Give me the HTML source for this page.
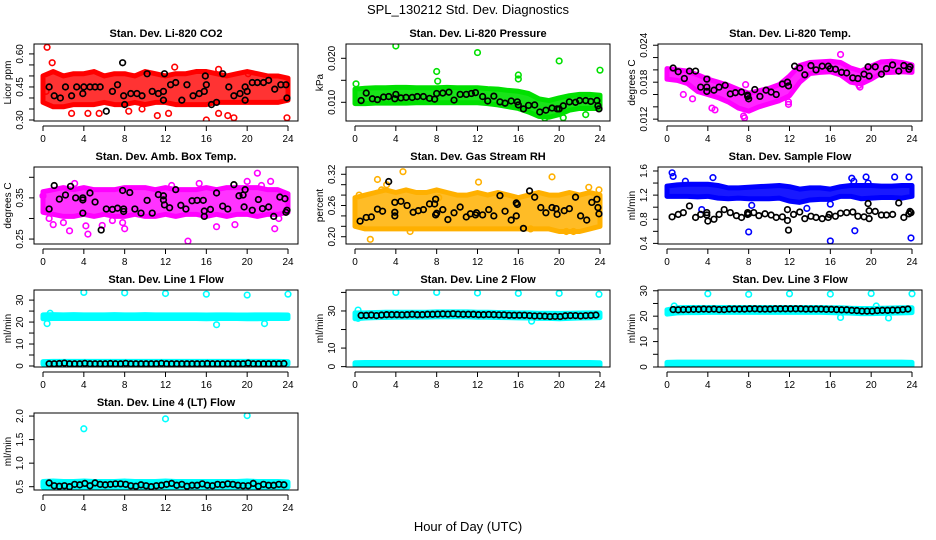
<!DOCTYPE html>
<html><head><meta charset="utf-8"><style>
html,body{margin:0;padding:0;background:#fff;}
svg{display:block;font-family:"Liberation Sans",Arial,sans-serif;}
</style></head><body>
<svg id="chart" width="936" height="540" viewBox="0 0 936 540" xmlns="http://www.w3.org/2000/svg">
<rect width="936" height="540" fill="#fff"/>
<text x="468" y="14" text-anchor="middle" font-size="13">SPL_130212  Std. Dev. Diagnostics</text>
<text x="468" y="531" text-anchor="middle" font-size="13">Hour of Day (UTC)</text>
</svg>
<script>
const hours = [0,1,2,3,4,5,6,7,8,9,10,11,12,13,14,15,16,17,18,19,20,21,22,23,24];
const xTicks = [0,4,8,12,16,20,24];

// Panel 1: CO2
const p1Upper=[0.50,0.52,0.50,0.51,0.51,0.52,0.50,0.51,0.51,0.50,0.52,0.51,0.50,0.51,0.51,0.52,0.52,0.51,0.50,0.51,0.52,0.51,0.50,0.50,0.49];
const p1Lower=[0.38,0.36,0.36,0.37,0.37,0.37,0.38,0.37,0.37,0.38,0.37,0.38,0.38,0.37,0.37,0.37,0.37,0.38,0.38,0.38,0.38,0.38,0.38,0.38,0.39];
const p1Out=[[0.4,0.63],[0.9,0.56],[0.3,0.43],[2.8,0.33],[4.4,0.33],[5.5,0.33],[11.2,0.32],[12.3,0.33],[16,0.30],[17.2,0.33],[18.1,0.32],[18.7,0.31],[23.9,0.31],[20.1,0.51],[12.9,0.54],[17.2,0.53],[9.7,0.35],[8.4,0.34]];
const p1Black=[[0.6,0.45],[1.1,0.41],[1.7,0.40],[2.2,0.45],[2.8,0.41],[3.3,0.45],[3.9,0.42],[4.0,0.45],[4.6,0.45],[5.1,0.45],[5.6,0.45],[6.2,0.34],[6.8,0.43],[7.3,0.46],[7.8,0.56],[7.9,0.41],[8.0,0.37],[8.6,0.42],[9.2,0.42],[9.7,0.41],[10.2,0.51],[10.7,0.43],[11.3,0.42],[11.8,0.43],[11.9,0.51],[11.8,0.39],[12.5,0.46],[13.0,0.47],[13.6,0.39],[14.1,0.46],[14.7,0.41],[15.3,0.42],[15.8,0.43],[15.9,0.50],[16.0,0.46],[16.5,0.37],[17.0,0.38],[17.6,0.51],[18.2,0.45],[18.7,0.41],[19.3,0.42],[19.8,0.39],[19.8,0.45],[20.0,0.43],[20.5,0.47],[21.0,0.47],[21.6,0.47],[22.1,0.48],[22.7,0.44],[23.3,0.46],[23.8,0.46],[23.9,0.40]];
// Panel 2: Pressure
const p2Upper=[0.0130,0.0132,0.0133,0.0133,0.0134,0.0134,0.0133,0.0133,0.0133,0.0134,0.0133,0.0133,0.0133,0.0131,0.0130,0.0127,0.0125,0.0120,0.0108,0.0104,0.0110,0.0115,0.0118,0.0118,0.0116];
const p2Lower=[0.0097,0.0097,0.0098,0.0098,0.0098,0.0098,0.0099,0.0099,0.0099,0.0099,0.0099,0.0099,0.0099,0.0097,0.0094,0.0090,0.0086,0.0078,0.0068,0.0066,0.0072,0.0082,0.0086,0.0086,0.0086];
const p2Out=[[0.1,0.0142],[4.0,0.0228],[8.0,0.0170],[8.1,0.0148],[12.0,0.0213],[16.0,0.0162],[16.0,0.0153],[20.0,0.0194],[24.0,0.0173],[18.6,0.0064],[20.4,0.0065],[22.6,0.0072]];
const p2Black=[[0.6,0.0104],[1.1,0.0121],[1.7,0.0108],[2.2,0.0106],[2.8,0.0112],[3.3,0.0113],[3.9,0.0108],[4.0,0.0118],[4.5,0.0110],[5.0,0.0111],[5.6,0.0111],[6.1,0.0113],[6.7,0.0113],[7.3,0.0109],[7.8,0.0107],[8.0,0.0120],[8.6,0.0121],[9.2,0.0123],[9.7,0.0105],[10.3,0.0118],[10.9,0.0118],[11.4,0.0120],[11.8,0.0122],[12.5,0.0113],[13.0,0.0103],[13.6,0.0114],[14.2,0.0101],[14.7,0.0098],[15.3,0.0103],[15.9,0.0101],[16.0,0.0094],[16.5,0.0085],[17.0,0.0093],[17.6,0.0094],[18.1,0.0078],[18.7,0.0082],[19.3,0.0087],[19.8,0.0085],[20.0,0.0085],[20.4,0.0092],[21.0,0.0101],[21.6,0.0100],[22.0,0.0104],[22.6,0.0104],[23.1,0.0102],[23.7,0.0104],[23.8,0.0092],[23.9,0.0085]];
// Panel 3: Li-820 Temp
const p3Upper=[0.0202,0.0200,0.0198,0.0192,0.0185,0.0180,0.0175,0.0168,0.0162,0.0166,0.0170,0.0176,0.0190,0.0207,0.0212,0.0213,0.0214,0.0212,0.0203,0.0198,0.0206,0.0213,0.0214,0.0212,0.0208];
const p3Lower=[0.0185,0.0183,0.0178,0.0165,0.0160,0.0155,0.0148,0.0138,0.0133,0.0140,0.0145,0.0150,0.0158,0.0180,0.0194,0.0196,0.0197,0.0192,0.0180,0.0177,0.0185,0.0195,0.0196,0.0197,0.0196];
const p3Out=[[1.6,0.0160],[2.5,0.0153],[4.0,0.0185],[4.4,0.0138],[4.7,0.0135],[7.5,0.0125],[7.6,0.0122],[7.7,0.0176],[11.9,0.0148],[11.9,0.0144],[18.8,0.0175],[18.9,0.0172],[17.0,0.0225]];
const p3Black=[[0.6,0.0203],[1.1,0.0197],[1.7,0.0186],[2.2,0.0198],[2.8,0.0198],[3.3,0.0172],[3.9,0.0185],[3.9,0.0172],[3.9,0.0165],[4.6,0.0167],[5.1,0.0172],[5.7,0.0175],[6.2,0.0161],[6.7,0.0163],[7.3,0.0164],[7.9,0.0159],[7.9,0.0157],[8.0,0.0153],[8.6,0.0168],[9.1,0.0157],[9.7,0.0167],[10.2,0.0164],[10.7,0.0160],[11.3,0.0177],[11.8,0.0180],[11.9,0.0174],[12.5,0.0206],[13.0,0.0203],[13.5,0.0192],[14.1,0.0207],[14.6,0.0200],[15.2,0.0206],[15.8,0.0206],[16.0,0.0202],[16.5,0.0201],[17.1,0.0196],[17.6,0.0195],[18.2,0.0187],[18.7,0.0186],[19.3,0.0193],[19.8,0.0190],[19.7,0.0205],[20.4,0.0205],[21.0,0.0193],[21.5,0.0202],[22.1,0.0208],[22.7,0.0198],[23.2,0.0207],[23.7,0.0201],[23.8,0.0205]];
// Panel 4: Amb box temp
const p4Upper=[0.365,0.37,0.375,0.37,0.375,0.37,0.37,0.37,0.375,0.375,0.375,0.37,0.375,0.37,0.37,0.37,0.375,0.37,0.375,0.375,0.375,0.375,0.37,0.37,0.36];
const p4Lower=[0.315,0.31,0.305,0.305,0.31,0.305,0.31,0.305,0.305,0.31,0.305,0.305,0.31,0.305,0.31,0.31,0.305,0.31,0.305,0.31,0.31,0.305,0.31,0.31,0.315];
const p4Out=[[0.0,0.355],[0.6,0.30],[1.0,0.285],[2.0,0.29],[2.6,0.27],[4.2,0.282],[4.4,0.262],[5.8,0.283],[6.8,0.295],[7.8,0.29],[8.0,0.275],[14.2,0.245],[17.0,0.28],[18.8,0.285],[20.0,0.39],[21.0,0.41],[22.7,0.275],[23.1,0.30],[22.3,0.39],[21.4,0.38],[3.1,0.385],[12.6,0.38],[15.3,0.385]];
const p4Black=[[0.6,0.323],[1.1,0.38],[1.6,0.347],[2.2,0.357],[2.7,0.378],[3.2,0.35],[3.9,0.35],[3.9,0.345],[3.9,0.313],[4.6,0.362],[5.1,0.34],[5.7,0.272],[6.2,0.323],[6.8,0.322],[7.3,0.325],[7.8,0.368],[7.9,0.317],[7.9,0.323],[8.5,0.363],[9.0,0.323],[9.6,0.313],[10.2,0.344],[10.7,0.313],[11.3,0.358],[11.8,0.355],[11.9,0.333],[11.8,0.345],[12.4,0.326],[13.0,0.37],[13.5,0.332],[14.0,0.323],[14.6,0.343],[15.1,0.344],[15.7,0.344],[15.8,0.318],[15.8,0.305],[16.4,0.322],[17.0,0.362],[17.6,0.33],[18.1,0.323],[18.7,0.382],[19.2,0.355],[19.6,0.357],[19.8,0.37],[19.7,0.328],[20.5,0.32],[21.1,0.346],[21.5,0.324],[22.1,0.328],[22.6,0.305],[23.2,0.352],[23.7,0.348],[23.8,0.315],[23.9,0.32]];
// Panel 5: Gas stream RH
const p5Upper=[0.275,0.28,0.285,0.29,0.285,0.29,0.285,0.285,0.29,0.285,0.28,0.28,0.285,0.28,0.285,0.28,0.275,0.28,0.285,0.28,0.28,0.285,0.28,0.285,0.28];
const p5Lower=[0.22,0.215,0.215,0.215,0.215,0.215,0.215,0.215,0.215,0.215,0.215,0.215,0.215,0.215,0.215,0.215,0.215,0.215,0.215,0.215,0.21,0.21,0.21,0.215,0.22];
const p5Out=[[0.4,0.28],[1.5,0.195],[2.2,0.31],[4.7,0.325],[5.4,0.21],[12.1,0.305],[17.2,0.215],[19.3,0.315],[20.7,0.21],[21.4,0.21],[22.9,0.295],[23.9,0.29],[2.6,0.29],[3.1,0.30],[8.2,0.275]];
const p5Black=[[0.5,0.230],[1.1,0.237],[1.6,0.238],[2.2,0.253],[2.7,0.249],[3.3,0.306],[3.9,0.266],[3.9,0.240],[3.9,0.247],[4.5,0.268],[5.1,0.260],[5.7,0.247],[6.2,0.250],[6.7,0.252],[7.3,0.263],[7.8,0.263],[7.9,0.272],[8.0,0.245],[7.9,0.242],[8.6,0.252],[9.1,0.233],[9.7,0.246],[10.3,0.257],[10.9,0.238],[11.3,0.244],[11.8,0.242],[11.9,0.246],[12.5,0.242],[13.1,0.252],[13.6,0.240],[14.2,0.279],[14.7,0.249],[15.3,0.232],[15.8,0.265],[15.9,0.262],[15.8,0.240],[16.5,0.216],[17.1,0.288],[17.6,0.276],[18.2,0.256],[18.7,0.246],[19.3,0.256],[19.7,0.254],[19.8,0.243],[20.5,0.25],[21.0,0.254],[21.6,0.276],[22.1,0.24],[22.7,0.232],[23.2,0.266],[23.7,0.272],[23.8,0.256],[23.9,0.244]];
// Panel 6: Sample flow
const p6Upper=[1.35,1.37,1.38,1.38,1.38,1.36,1.32,1.32,1.33,1.34,1.35,1.36,1.34,1.30,1.32,1.32,1.30,1.34,1.36,1.36,1.36,1.35,1.35,1.36,1.36];
const p6Lower=[1.18,1.18,1.18,1.17,1.18,1.15,1.14,1.15,1.14,1.14,1.14,1.15,1.10,1.08,1.12,1.13,1.13,1.18,1.18,1.14,1.15,1.16,1.16,1.15,1.18];
const p6Out=[[0.5,1.57],[0.6,1.51],[3.4,0.96],[4.5,1.49],[8.0,0.59],[8.3,1.03],[13.7,0.98],[16.0,0.44],[16.0,1.05],[18.1,1.48],[18.4,0.61],[19.5,1.50],[22.3,1.50],[23.7,1.50],[23.9,0.49],[19.7,1.4],[18.3,1.43],[1.8,1.43]];
const p6Black=[[0.5,0.84],[1.1,0.88],[1.6,0.91],[2.2,1.02],[2.8,0.83],[3.3,0.88],[3.9,0.91],[3.9,0.87],[4.0,0.77],[4.6,0.80],[5.1,0.88],[5.6,0.96],[6.2,0.91],[6.8,0.86],[7.3,0.83],[7.9,0.91],[7.9,0.88],[8.0,0.89],[8.5,0.91],[9.0,0.86],[9.6,0.89],[10.2,0.87],[10.7,0.83],[11.3,0.84],[11.8,0.96],[11.8,0.78],[11.9,0.62],[12.4,0.88],[13.0,0.92],[13.5,0.81],[14.1,0.85],[14.6,0.83],[15.2,0.81],[15.8,0.83],[15.9,0.88],[16.5,0.85],[17.0,0.90],[17.6,0.91],[18.2,0.92],[18.7,0.85],[19.3,0.84],[19.7,1.06],[19.8,0.81],[19.8,0.94],[20.4,0.93],[21.0,0.87],[21.5,0.87],[22.1,0.88],[22.7,1.07],[23.2,0.83],[23.7,0.89],[23.8,0.93],[23.9,0.91]];
// Panel 7: Line 1 flow
const p7Upper=[23.3,23.4,23.3,23.4,23.3,23.3,23.3,23.4,23.3,23.3,23.4,23.3,23.3,23.3,23.3,23.3,23.2,23.3,23.3,23.2,23.2,23.3,23.3,23.3,23.2];
const p7Lower=[21.5,21.6,21.6,21.6,21.6,21.7,21.6,21.6,21.6,21.6,21.6,21.6,21.6,21.6,21.6,21.6,21.5,21.6,21.6,21.6,21.5,21.5,21.6,21.6,21.6];
const p7LowUpper=[2.0,2.1,2.1,2.1,2.1,2.1,2.1,2.1,2.1,2.1,2.1,2.1,2.1,2.1,2.1,2.1,2.1,2.1,2.1,2.1,2.1,2.1,2.1,2.1,2.0];
const p7LowLower=[0.8,0.7,0.7,0.7,0.7,0.7,0.7,0.7,0.7,0.7,0.7,0.7,0.7,0.7,0.7,0.7,0.7,0.7,0.7,0.7,0.7,0.7,0.7,0.7,0.8];
const p7Out=[[4,33.5],[8,33.3],[12,33],[16,32.7],[20,32.3],[24,32.7],[0.4,19.3],[17,18.8],[21.7,19.3],[0.7,24]];
const p7BlackY=[1.0,1.0,1.1,1.3,1.0,1.0,1.0,1.2,1.0,1.0,1.0,1.0,1.1,1.0,1.0,1.2,1.0,1.0,1.0,1.0,1.0,1.0,1.2,1.0,1.0,1.0,1.0,1.0,1.0,1.0,1.0,1.1,1.0,1.0,1.0,1.0,1.0,1.0,1.0,1.3,1.0,1.0,1.0,1.0,1.0,1.0,1.1];
// Panel 8: Line 2 flow
const p8Upper=[29.0,29.0,29.2,29.3,29.3,29.3,29.3,29.3,29.5,29.5,29.5,29.5,29.3,29.3,29.2,29.2,29.0,29.0,28.8,28.8,28.7,28.8,28.9,29.0,29.0];
const p8Lower=[25.8,26.2,26.4,26.5,26.6,26.6,26.7,26.7,26.8,26.8,26.8,26.8,26.6,26.6,26.5,26.4,26.3,26.2,26.0,26.0,25.8,26.0,26.2,26.3,26.4];
const p8LowUpper=[2.1,2.2,2.2,2.2,2.2,2.2,2.2,2.2,2.2,2.2,2.2,2.2,2.2,2.2,2.2,2.2,2.2,2.2,2.2,2.2,2.2,2.2,2.2,2.2,2.1];
const p8LowLower=[0.6,0.5,0.5,0.5,0.5,0.5,0.5,0.5,0.5,0.5,0.5,0.5,0.5,0.5,0.5,0.5,0.5,0.5,0.5,0.5,0.5,0.5,0.5,0.5,0.6];
const p8Out=[[4,40],[8,40],[12,39.7],[16,39.5],[20,39.5],[23.9,39],[0.3,30.5],[17.3,24.5],[0.1,27],[0.3,26]];
const p8BlackY=[27.6,27.6,27.8,27.5,27.8,28.0,28.0,28.0,27.9,28.0,28.2,28.0,28.0,28.2,28.2,28.3,28.4,28.3,28.5,28.3,28.2,28.2,28.2,28.0,28.0,28.1,28.0,27.9,27.9,27.7,27.7,27.7,27.7,27.5,27.3,27.3,27.2,27.0,27.1,27.0,27.4,27.5,27.5,27.3,27.5,27.6,27.8];
// Panel 9: Line 3 flow
const p9Upper=[22.5,23.3,23.4,23.4,23.4,23.4,23.4,23.4,23.4,23.4,23.4,23.4,23.4,23.4,23.4,23.4,23.3,23.3,23.1,23.0,23.0,23.1,23.2,23.3,23.3];
const p9Lower=[20.8,21.3,21.4,21.4,21.5,21.5,21.5,21.5,21.5,21.5,21.5,21.5,21.5,21.5,21.5,21.5,21.4,21.3,21.2,21.0,21.0,21.1,21.2,21.3,21.4];
const p9LowUpper=[1.8,1.9,1.9,1.9,1.9,1.9,1.9,1.9,1.9,1.9,1.9,1.9,1.9,1.9,1.9,1.9,1.9,1.9,1.9,1.9,1.9,1.9,1.9,1.9,1.8];
const p9LowLower=[0.5,0.4,0.4,0.4,0.4,0.4,0.4,0.4,0.4,0.4,0.4,0.4,0.4,0.4,0.4,0.4,0.4,0.4,0.4,0.4,0.4,0.4,0.4,0.4,0.5];
const p9Out=[[4,28.8],[8,28.6],[12,28.8],[16,28.7],[20,28.9],[24,28.8],[17,19.5],[21.7,19.3],[0.7,24],[20.5,24]];
const p9BlackY=[22.6,22.5,22.6,22.6,22.7,22.7,22.8,22.7,22.8,22.6,22.6,22.8,22.8,22.8,22.8,22.9,22.9,22.8,22.8,22.8,22.9,22.9,22.9,22.9,22.9,22.9,22.8,22.8,22.8,22.8,22.7,22.7,22.6,22.5,22.5,22.3,22.2,22.0,22.0,22.0,22.2,22.3,22.3,22.4,22.4,22.6,22.8];
// Panel 10: Line 4 flow
const p10Upper=[0.61,0.62,0.61,0.61,0.62,0.61,0.61,0.61,0.62,0.61,0.61,0.61,0.62,0.61,0.61,0.61,0.61,0.61,0.61,0.61,0.62,0.61,0.61,0.61,0.60];
const p10Lower=[0.49,0.48,0.48,0.48,0.48,0.48,0.48,0.48,0.48,0.48,0.48,0.48,0.48,0.48,0.48,0.48,0.48,0.48,0.48,0.48,0.48,0.48,0.48,0.48,0.49];
const p10Out=[[4,1.73],[12,1.94],[20,2.01]];
const p10BlackY=[0.58,0.52,0.51,0.52,0.50,0.55,0.54,0.57,0.52,0.58,0.55,0.54,0.55,0.56,0.56,0.55,0.52,0.51,0.54,0.52,0.50,0.52,0.53,0.55,0.57,0.53,0.55,0.51,0.53,0.53,0.56,0.53,0.52,0.55,0.54,0.56,0.55,0.53,0.52,0.52,0.57,0.51,0.55,0.53,0.53,0.55,0.54];

const panels=[
 {c:0,r:0,t:"Stan. Dev. Li-820 CO2",yl:"Licor ppm",y0:0.2955,y1:0.645,ticks:[0.30,0.35,0.40,0.45,0.50,0.55,0.60],lab:{"0.30":"0.30","0.45":"0.45","0.60":"0.60"},col:"#ff0000",op:0.8,bands:[[p1Upper,p1Lower]],out:p1Out,black:p1Black},
 {c:1,r:0,t:"Stan. Dev. Li-820 Pressure",yl:"kPa",y0:0.00575,y1:0.02325,ticks:[0.010,0.015,0.020],lab:{"0.010":"0.010","0.020":"0.020"},col:"#00e000",op:0.9,bands:[[p2Upper,p2Lower]],out:p2Out,black:p2Black},
 {c:2,r:0,t:"Stan. Dev. Li-820 Temp.",yl:"degrees C",y0:0.0117,y1:0.0242,ticks:[0.012,0.014,0.016,0.018,0.020,0.022,0.024],lab:{"0.012":"0.012","0.018":"0.018","0.024":"0.024"},col:"#ff00ff",op:0.85,bands:[[p3Upper,p3Lower]],out:p3Out,black:p3Black},
 {c:0,r:1,t:"Stan. Dev. Amb. Box Temp.",yl:"degrees C",y0:0.238,y1:0.425,ticks:[0.25,0.30,0.35,0.40],lab:{"0.25":"0.25","0.35":"0.35"},col:"#ff00ff",op:0.8,bands:[[p4Upper,p4Lower]],out:p4Out,black:p4Black},
 {c:1,r:1,t:"Stan. Dev. Gas Stream RH",yl:"percent",y0:0.186,y1:0.334,ticks:[0.20,0.22,0.24,0.26,0.28,0.30,0.32],lab:{"0.20":"0.20","0.26":"0.26","0.32":"0.32"},col:"#ffb000",op:0.85,bands:[[p5Upper,p5Lower]],out:p5Out,black:p5Black},
 {c:2,r:1,t:"Stan. Dev. Sample Flow",yl:"ml/min",y0:0.39,y1:1.666,ticks:[0.4,0.6,0.8,1.0,1.2,1.4,1.6],lab:{"0.4":"0.4","0.8":"0.8","1.2":"1.2","1.6":"1.6"},col:"#0000ff",op:0.9,bands:[[p6Upper,p6Lower]],out:p6Out,black:p6Black},
 {c:0,r:2,t:"Stan. Dev. Line 1 Flow",yl:"ml/min",y0:-0.46,y1:34.6,ticks:[0,5,10,15,20,25,30],lab:{"0":"0","10":"10","20":"20","30":"30"},col:"#00ffff",op:1,bands:[[p7Upper,p7Lower],[p7LowUpper,p7LowLower]],out:p7Out,blackY:p7BlackY},
 {c:1,r:2,t:"Stan. Dev. Line 2 Flow",yl:"ml/min",y0:-0.2,y1:41.3,ticks:[0,10,20,30,40],lab:{"0":"0","10":"10","30":"30"},col:"#00ffff",op:1,bands:[[p8Upper,p8Lower],[p8LowUpper,p8LowLower]],out:p8Out,blackY:p8BlackY},
 {c:2,r:2,t:"Stan. Dev. Line 3 Flow",yl:"ml/min",y0:0,y1:30.3,ticks:[0,5,10,15,20,25,30],lab:{"0":"0","10":"10","20":"20","30":"30"},col:"#00ffff",op:1,bands:[[p9Upper,p9Lower],[p9LowUpper,p9LowLower]],out:p9Out,blackY:p9BlackY},
 {c:0,r:3,t:"Stan. Dev. Line 4 (LT) Flow",yl:"ml/min",y0:0.43,y1:2.065,ticks:[0.5,1.0,1.5,2.0],lab:{"0.5":"0.5","1":"1.0","1.5":"1.5","2":"2.0"},col:"#00ffff",op:1,bands:[[p10Upper,p10Lower]],out:p10Out,blackY:p10BlackY}
];

const svg=document.getElementById('chart');
const NS="http://www.w3.org/2000/svg";
function mk(tag,attrs,parent){const e=document.createElementNS(NS,tag);for(const k in attrs)e.setAttribute(k,attrs[k]);(parent||svg).appendChild(e);return e;}

panels.forEach((p,i)=>{
  const L=34+312*p.c, R=298+312*p.c, T=44+123*p.r, B=T+77;
  const x0=43+312*p.c, x24=288+312*p.c;
  const xs=h=>x0+(x24-x0)*h/24;
  const ys=v=>B-(v-p.y0)/(p.y1-p.y0)*(B-T);
  const g=mk('g',{});
  
  
  const cp=mk('clipPath',{id:'cp'+i},g);
  mk('rect',{x:L,y:T,width:R-L,height:B-T},cp);
  const plot=mk('g',{'clip-path':'url(#cp'+i+')'},g);
  p.bands.forEach(b=>{
    const up=b[0], lo=b[1];
    let pts=hours.map((h,k)=>xs(h)+','+ys(up[k]));
    pts=pts.concat(hours.slice().reverse().map((h,k)=>xs(h)+','+ys(lo[24-k])));
    const poly=mk('polygon',{points:pts.join(' '),fill:p.col,'fill-opacity':p.op,stroke:p.col,'stroke-width':5,'stroke-linejoin':'round'},plot);
    
    
  });
  p.out.forEach(o=>{
    const c=mk('circle',{cx:xs(o[0]),cy:ys(o[1]),r:2.8,fill:'none',stroke:p.col,'stroke-width':1.6},plot);
    
    
  });
  const blk=p.black?p.black:p.blackY.map((v,k)=>[0.6+k*0.5,v]);
  blk.forEach(o=>{
    const c=mk('circle',{cx:xs(o[0]),cy:ys(o[1]),r:2.8,fill:'none',stroke:'#000','stroke-width':1.7},plot);
    
    
  });
  const box=mk('rect',{x:L,y:T,width:R-L,height:B-T,fill:'none',stroke:'#000','stroke-width':1},g);
  
  
  const ax=mk('line',{x1:xs(0),x2:xs(24),y1:B+5,y2:B+5,stroke:'#000'},g);
  
  
  xTicks.forEach(h=>{
    mk('line',{x1:xs(h),x2:xs(h),y1:B+5,y2:B+10,stroke:'#000'},g);
    const t=mk('text',{x:xs(h),y:B+21,'text-anchor':'middle','font-size':10},g);
    
    
    t.textContent=h;
  });
  const yt=p.ticks;
  mk('line',{x1:L,x2:L,y1:ys(yt[0]),y2:ys(yt[yt.length-1]),stroke:'#000'},g);
  yt.forEach(v=>{
    mk('line',{x1:L-5,x2:L,y1:ys(v),y2:ys(v),stroke:'#000'},g);
    let lbl=null;
    for(const k in p.lab){if(Math.abs(parseFloat(k)-v)<1e-9)lbl=p.lab[k];}
    if(lbl!==null){
      const t=mk('text',{x:0,y:0,'text-anchor':'middle','font-size':10,transform:'translate('+(L-11)+','+ys(v)+') rotate(-90)'},g);
      
      
      t.textContent=lbl;
    }
  });
  const yl=mk('text',{x:0,y:0,'text-anchor':'middle','font-size':10,transform:'translate('+(L-23)+','+((T+B)/2)+') rotate(-90)'},g);
  
  
  yl.textContent=p.yl;
  const tt=mk('text',{x:(L+R)/2,y:T-7,'text-anchor':'middle','font-size':11,'font-weight':'bold'},g);
  
  
  tt.textContent=p.t;
});
</script>
</body></html>
